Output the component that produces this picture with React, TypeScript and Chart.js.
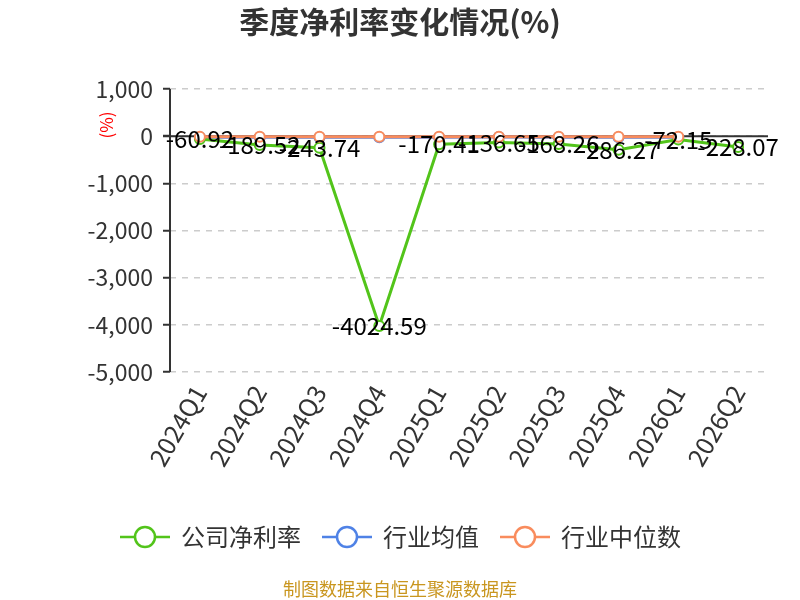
import React, { useEffect, useRef } from "react";
import { Chart, registerables } from "chart.js";

Chart.register(...registerables);

const categories = ["2024Q1", "2024Q2", "2024Q3", "2024Q4", "2025Q1", "2025Q2", "2025Q3", "2025Q4", "2026Q1", "2026Q2"];
const companyValues = [-60.92, -189.52, -243.74, -4024.59, -170.41, -136.65, -168.26, -286.27, -72.15, -228.07];
const industryAvg = [-22, -25, -22, -24, -22, -20, -22, -24, -22, null];
const industryMedian = [-15, -12, -14, -10, -12, -10, -12, -14, -12, null];
const seriesNames = ["公司净利率", "行业均值", "行业中位数"];
const seriesColors = ["#52c41a", "#4f82e6", "#f98c5d"];
const yTicks = { min: -5000, max: 1000, step: 1000 };
const titleText = "季度净利率变化情况(%)";
const sourceText = "制图数据来自恒生聚源数据库";
const unitText = "(%)";

const FONT = "'Noto Sans CJK SC', 'Noto Sans', sans-serif";

const overlayPlugin = {
  id: "overlay",
  beforeDatasetsDraw(chart: any) {
    const { ctx, chartArea, scales } = chart;
    const y0 = scales.y.getPixelForValue(0);
    ctx.save();
    ctx.strokeStyle = "#333";
    ctx.lineWidth = 2;
    ctx.beginPath();
    ctx.moveTo(chartArea.left - 7, y0);
    ctx.lineTo(chartArea.right, y0);
    ctx.stroke();
    ctx.beginPath();
    ctx.moveTo(chartArea.left, chartArea.top);
    ctx.lineTo(chartArea.left, chartArea.bottom);
    ctx.stroke();
    ctx.restore();
  },
  afterDraw(chart: any) {
    const { ctx } = chart;
    ctx.save();
    // title
    ctx.fillStyle = "#333";
    ctx.font = `bold 30px ${FONT}`;
    ctx.textAlign = "center";
    ctx.textBaseline = "middle";
    ctx.fillText(titleText, 400, 22);
    // unit
    ctx.save();
    ctx.translate(107, 125);
    ctx.rotate(-Math.PI / 2);
    ctx.fillStyle = "#ff0000";
    ctx.font = `17px ${FONT}`;
    ctx.fillText(unitText, 0, 0);
    ctx.restore();
    // data labels
    const meta = chart.getDatasetMeta(0);
    ctx.fillStyle = "#000";
    ctx.font = `24px ${FONT}`;
    ctx.textAlign = "center";
    ctx.textBaseline = "middle";
    meta.data.forEach((pt: any, i: number) => {
      ctx.fillText(String(companyValues[i]), pt.x, pt.y);
    });
    // legend
    const legendX = [120, 322, 500];
    const ly = 537;
    seriesNames.forEach((name, i) => {
      const x = legendX[i];
      ctx.strokeStyle = seriesColors[i];
      ctx.lineWidth = 2.5;
      ctx.beginPath();
      ctx.moveTo(x, ly);
      ctx.lineTo(x + 50, ly);
      ctx.stroke();
      ctx.beginPath();
      ctx.arc(x + 25, ly, 10, 0, Math.PI * 2);
      ctx.fillStyle = "#fff";
      ctx.fill();
      ctx.stroke();
      ctx.fillStyle = "#333";
      ctx.font = `24px ${FONT}`;
      ctx.textAlign = "left";
      ctx.textBaseline = "middle";
      ctx.fillText(name, x + 61, ly);
    });
    // source
    ctx.fillStyle = "#c9961f";
    ctx.font = `18px ${FONT}`;
    ctx.textAlign = "center";
    ctx.fillText(sourceText, 400, 589);
    ctx.restore();
  },
};

export default function App() {
  const ref = useRef<HTMLCanvasElement | null>(null);
  useEffect(() => {
    if (!ref.current) return;
    const mk = (label: string, data: any[], color: string, order: number) => ({
      label,
      data,
      order,
      borderColor: color,
      backgroundColor: "#fff",
      borderWidth: 3,
      pointRadius: 5,
      pointBorderWidth: 2,
      pointBackgroundColor: "#fff",
      pointBorderColor: color,
      tension: 0,
      spanGaps: false,
    });
    const chart = new Chart(ref.current, {
      type: "line",
      data: {
        labels: categories,
        datasets: [
          mk(seriesNames[0], companyValues, seriesColors[0], 1),
          mk(seriesNames[1], industryAvg, seriesColors[1], 2),
          mk(seriesNames[2], industryMedian, seriesColors[2], 0),
        ],
      },
      options: {
        animation: false,
        responsive: false,
        layout: { padding: { left: 0, right: 32, top: 89, bottom: 0 } },
        plugins: { legend: { display: false }, title: { display: false }, tooltip: { enabled: false } },
        scales: {
          x: {
            offset: true,
            grid: { display: false, drawTicks: false },
            border: { display: false },
            ticks: {
              color: "#333",
              font: { size: 25, family: FONT },
              minRotation: 60,
              maxRotation: 60,
              padding: 8,
              autoSkip: false,
            },
            afterFit: (s: any) => {
              s.height = 228;
            },
          },
          y: {
            min: yTicks.min,
            max: yTicks.max,
            ticks: {
              stepSize: yTicks.step,
              color: "#333",
              font: { size: 23, family: FONT },
              padding: 10,
              callback: (v: any) => Number(v).toLocaleString("en-US"),
            },
            grid: {
              color: "#cccccc",
              lineWidth: 1.5,
              tickColor: "#333",
              tickLength: 7,
              tickWidth: 2,
              tickBorderDash: [],
            } as any,
            border: { display: false, dash: [6, 6] },
            afterFit: (s: any) => {
              s.width = 170;
            },
          },
        },
      },
      plugins: [overlayPlugin],
    });
    return () => chart.destroy();
  }, []);
  return (
    <div style={{ position: "absolute", left: 0, top: 0, width: 800, height: 600, background: "#fff" }}>
      <canvas ref={ref} width={800} height={600} style={{ width: 800, height: 600 }} />
    </div>
  );
}
